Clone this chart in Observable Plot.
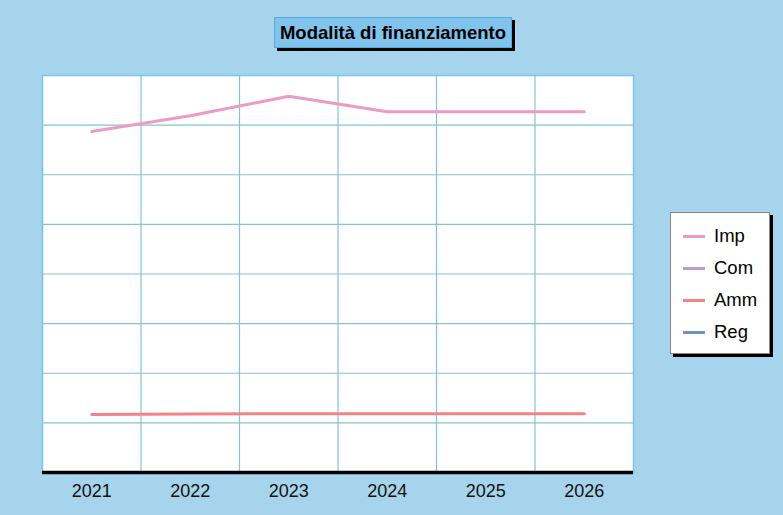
<!DOCTYPE html>
<html><head><meta charset="utf-8">
<script src="https://cdn.jsdelivr.net/npm/d3@7"></script>
<script src="https://cdn.jsdelivr.net/npm/@observablehq/plot@0.6"></script>
<style>
html,body{margin:0;padding:0;background:#a6d4ec;font-family:"Liberation Sans",Arial,sans-serif;}
#wrap{position:relative;width:783px;height:515px;overflow:hidden;}
#title{position:absolute;left:274px;top:17px;width:236px;height:29px;background:#80c3ec;border:1px solid #5aa9d6;box-shadow:3px 3px 0 #000;font-weight:bold;font-size:18.5px;line-height:29px;text-align:center;color:#000;white-space:nowrap;}
#legend{position:absolute;left:670px;top:212px;width:98px;height:140px;background:#fff;border:1px solid #888;box-shadow:3px 3px 0 #000;}
.row{position:absolute;left:12px;height:20px;font-size:18.5px;line-height:20px;color:#000;}
.sw{display:inline-block;width:22px;height:3px;vertical-align:middle;margin-right:9px;position:relative;top:-1px;}
</style></head>
<body><div id="wrap"><div id="chart"></div><div id="title"></div><div id="legend"></div></div>
<script>
const years = [2021, 2022, 2023, 2024, 2025, 2026];
const seriesNames = ["Imp", "Com", "Amm", "Reg"];
const imp = [68.7, 71.9, 75.8, 72.7, 72.7, 72.7];
const com = [0, 0, 0, 0, 0, 0];
const amm = [11.7, 11.8, 11.85, 11.85, 11.85, 11.85];
const reg = [0, 0, 0, 0, 0, 0];
const colors = ["#ec9ac6", "#b99bd8", "#f08484", "#6f90c8"];
const titleText = "Modalità di finanziamento";
const yGrid = [10, 20, 30, 40, 50, 60, 70];
const xGrid = [2021.5, 2022.5, 2023.5, 2024.5, 2025.5];

const valuesBySeries = [imp, com, amm, reg];
const data = [];
seriesNames.forEach((s, i) => years.forEach((y, j) => data.push({series: s, year: y, value: valuesBySeries[i][j]})));

const chart = Plot.plot({
  width: 783, height: 515,
  marginLeft: 42, marginRight: 150, marginTop: 75, marginBottom: 43,
  style: {background: "transparent", fontFamily: "'Liberation Sans', Arial, sans-serif", fontSize: "18px", color: "#111"},
  x: {domain: [2020.5, 2026.5], axis: null, label: null},
  y: {domain: [0, 80], axis: null, label: null},
  color: {domain: seriesNames, range: colors},
  marks: [
    Plot.frame({fill: "white", stroke: "#7cc4e4", strokeWidth: 1.5}),
    Plot.ruleY(yGrid, {stroke: "#86c2d6", strokeWidth: 1.2}),
    Plot.ruleX(xGrid, {stroke: "#86c2d6", strokeWidth: 1.2}),
    Plot.line(data.filter(d => d.series === "Com" || d.series === "Reg"), {x: "year", y: "value", stroke: "series", z: "series", strokeWidth: 3}),
    Plot.line(data.filter(d => d.series === "Imp" || d.series === "Amm"), {x: "year", y: "value", stroke: "series", z: "series", strokeWidth: 3}),
    Plot.ruleY([0], {stroke: "#000", strokeWidth: 3.5}),
    Plot.axisX(years, {tickSize: 0, tickPadding: 12, tickFormat: d => String(d), fontSize: 18, fill: "#111", label: null})
  ]
});
document.getElementById("chart").appendChild(chart);
document.getElementById("title").textContent = titleText;
const leg = document.getElementById("legend");
seriesNames.forEach((s, i) => {
  const r = document.createElement("div");
  r.className = "row";
  r.style.top = (13 + i * 32) + "px";
  r.innerHTML = `<span class="sw" style="background:${colors[i]}"></span>${s}`;
  leg.appendChild(r);
});
</script></body></html>
